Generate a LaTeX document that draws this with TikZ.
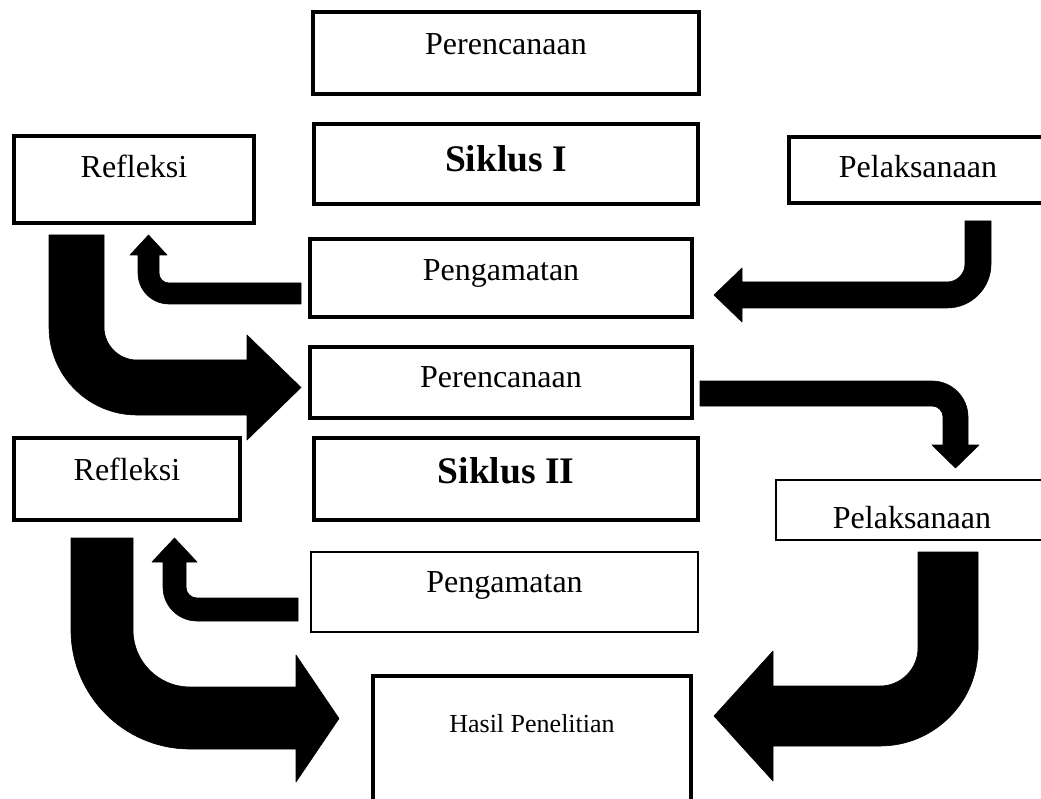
\documentclass[tikz,border=0pt]{standalone}
\usepackage{fontspec}
\setmainfont{Liberation Serif}
\begin{document}
\begin{tikzpicture}[x=1pt,y=-1pt,
  box/.style={draw=black, inner sep=0pt, outer sep=0pt, font=\fontsize{32pt}{38pt}\selectfont},
  thickbox/.style={box, line width=4pt},
  thinbox/.style={box, line width=2pt},
  boldtext/.style={font=\bfseries\fontsize{37.5pt}{45pt}\selectfont},
  blockarrow/.style={fill=black, draw=black, line width=0.6pt, line join=round}]
\useasboundingbox (0,0) rectangle (1041,799);
\clip (0,0) rectangle (1041,799);

% boxes
\node[thickbox, minimum width=386pt, minimum height=82pt, text height=4pt, text depth=0pt] (per1) at (506,53) {Perencanaan};
\node[thickbox, boldtext, minimum width=384pt, minimum height=80pt, text height=16pt, text depth=0pt] (sik1) at (506,164) {Siklus I};
\node[thickbox, line width=3.5pt, minimum width=240pt, minimum height=87pt, text height=0pt, text depth=3pt] (ref1) at (134,179.5) {Refleksi};
\node[thickbox, minimum width=258pt, minimum height=66pt, text height=16pt, text depth=0pt] (pel1) at (918,170) {Pelaksanaan};
\node[thickbox, minimum width=382pt, minimum height=78pt, text height=6pt, text depth=0pt] (pen1) at (501,278) {Pengamatan};
\node[thickbox, minimum width=382pt, minimum height=71pt, text height=9pt, text depth=0pt] (per2) at (501,382.5) {Perencanaan};
\node[thickbox, minimum width=226pt, minimum height=82pt, text height=2pt, text depth=0pt] (ref2) at (127,479) {Refleksi};
\node[thickbox, boldtext, minimum width=384pt, minimum height=82pt, text height=8pt, text depth=0pt] (sik2) at (506,479) {Siklus II};
\node[thinbox, minimum width=272pt, minimum height=60pt, text height=36pt, text depth=0pt] (pel2) at (912,510) {Pelaksanaan};
\node[thinbox, minimum width=387pt, minimum height=80pt, text height=0pt, text depth=0pt] (pen2) at (504.5,592) {Pengamatan};
\node[thickbox, font=\fontsize{26pt}{31pt}\selectfont, minimum width=318pt, minimum height=144pt, text height=0pt, text depth=32pt] (hasil) at (532,748) {Hasil Penelitian};

% block arrows
% Pengamatan I -> Refleksi I
\fill[blockarrow] (301,283) -- (169,283) arc[start angle=90, end angle=180, radius=10] -- (159,255) -- (167,255) -- (148.5,235) -- (130,255) -- (138,255) -- (138,273) arc[start angle=180, end angle=90, radius=31] -- (301,304) -- cycle;
% Refleksi I -> Perencanaan II
\fill[blockarrow] (49,235) -- (104,235) -- (104,327) arc[start angle=180, end angle=90, radius=33] -- (247,360) -- (247,335) -- (301,387.5) -- (247,440) -- (247,415) -- (137,415) arc[start angle=90, end angle=180, radius=88] -- cycle;
% Pelaksanaan I -> Pengamatan I
\fill[blockarrow] (965,221) -- (991,221) -- (991,264) arc[start angle=0, end angle=90, radius=44] -- (742,308) -- (742,322) -- (714,295) -- (742,268) -- (742,282) -- (947,282) arc[start angle=90, end angle=0, radius=18] -- cycle;
% Perencanaan II -> Pelaksanaan II
\fill[blockarrow] (700,381) -- (932,381) arc[start angle=-90, end angle=0, radius=36] -- (968,445) -- (979,445) -- (955.5,468) -- (932,445) -- (943,445) -- (943,417) arc[start angle=0, end angle=-90, radius=11] -- (700,406) -- cycle;
% Pengamatan II -> Refleksi II
\fill[blockarrow] (298,598) -- (197,598) arc[start angle=90, end angle=180, radius=11] -- (186,562) -- (197,562) -- (174.5,538) -- (152,562) -- (163,562) -- (163,587) arc[start angle=180, end angle=90, radius=34] -- (298,621) -- cycle;
% Refleksi II -> Hasil Penelitian
\fill[blockarrow] (71,538) -- (133,538) -- (133,630) arc[start angle=180, end angle=90, radius=57] -- (296,687) -- (296,655) -- (339,718.5) -- (296,782) -- (296,749) -- (190,749) arc[start angle=90, end angle=180, radius=119] -- cycle;
% Pelaksanaan II -> Hasil Penelitian
\fill[blockarrow] (918,552) -- (978,552) -- (978,648) arc[start angle=0, end angle=90, radius=98] -- (773,746) -- (773,781) -- (714,716) -- (773,651) -- (773,686) -- (880,686) arc[start angle=90, end angle=0, radius=38] -- cycle;
\end{tikzpicture}
\end{document}
